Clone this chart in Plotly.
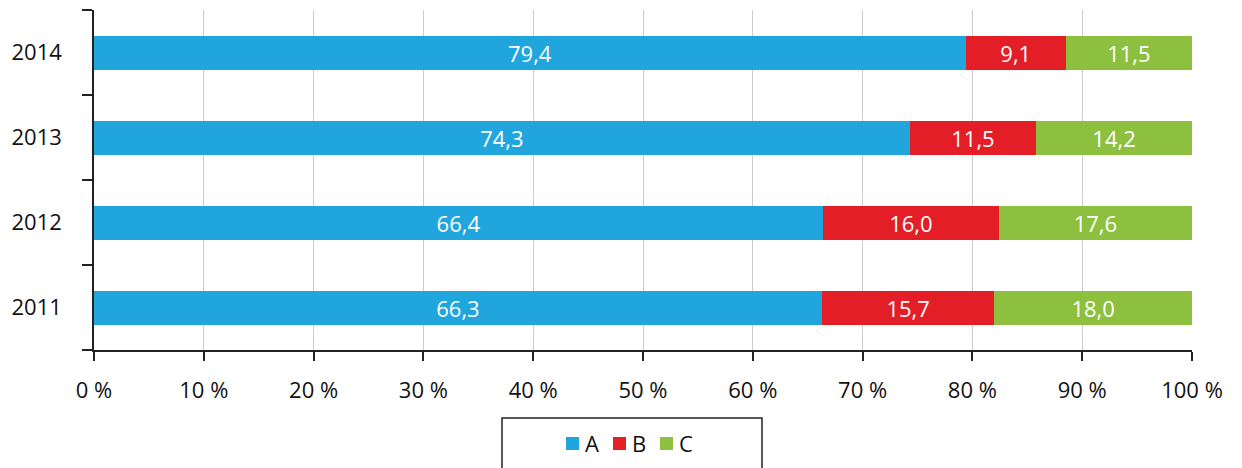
import plotly.graph_objects as go

years = ["2011", "2012", "2013", "2014"]
a_vals = [66.3, 66.4, 74.3, 79.4]
b_vals = [15.7, 16.0, 11.5, 9.1]
c_vals = [18.0, 17.6, 14.2, 11.5]
series_names = ["A", "B", "C"]
colors = ["#21A5DD", "#E41E26", "#8DC03F"]
x_ticks = [0, 10, 20, 30, 40, 50, 60, 70, 80, 90, 100]

FONT = "Open Sans, Noto Sans, sans-serif"
FS = 22
W, H = 1242, 468
ML, MR, MT, MB = 94, 50, 10, 118
PW, PH = W - ML - MR, H - MT - MB

def px_x(p):
    return (p - ML) / PW

def px_y(p):
    return (H - MB - p) / PH

def fmt(v):
    return f"{v:.1f}".replace(".", ",")

fig = go.Figure()
for name, vals, col in zip(series_names, [a_vals, b_vals, c_vals], colors):
    fig.add_trace(go.Bar(
        y=years, x=vals, name=name, orientation="h",
        marker=dict(color=col, line=dict(width=0)),
        text=[fmt(v) for v in vals],
        textposition="inside", insidetextanchor="middle",
        textfont=dict(color="white", size=FS, family=FONT),
        textangle=0, showlegend=False,
    ))

# legend box and entries
shapes = [dict(type="rect", xref="paper", yref="paper",
               x0=px_x(502), x1=px_x(762), y0=px_y(418), y1=px_y(490),
               line=dict(color="#222", width=1.5), fillcolor="rgba(0,0,0,0)")]
annotations = []
for i, (name, col) in enumerate(zip(series_names, colors)):
    sx = 566 + i * 47
    shapes.append(dict(type="rect", xref="paper", yref="paper",
                       x0=px_x(sx), x1=px_x(sx + 13), y0=px_y(437), y1=px_y(450),
                       line=dict(width=0), fillcolor=col))
    annotations.append(dict(xref="paper", yref="paper", x=px_x(sx + 17), y=px_y(443.5),
                            xanchor="left", yanchor="middle", text=name, showarrow=False,
                            font=dict(size=FS, family=FONT, color="#111")))

fig.update_layout(
    barmode="stack",
    bargap=0.6,
    width=W, height=H,
    margin=dict(l=ML, r=MR, t=MT, b=MB),
    plot_bgcolor="white", paper_bgcolor="white",
    font=dict(family=FONT, size=FS, color="#111"),
    uniformtext=dict(mode="show", minsize=FS),
    showlegend=False,
    shapes=shapes,
    annotations=annotations,
)
fig.update_xaxes(
    range=[0, 100], tickvals=x_ticks, ticktext=[f"{t} %" for t in x_ticks],
    showgrid=True, gridcolor="#CCCCCC", gridwidth=1,
    showline=True, linecolor="#222", linewidth=1.5,
    ticks="outside", ticklen=9, tickwidth=1.5, tickcolor="#222",
    ticklabelstandoff=11, zeroline=False, automargin=False,
    tickfont=dict(size=FS, family=FONT, color="#111"),
)
fig.update_yaxes(
    type="category", categoryorder="array", categoryarray=years,
    showline=True, linecolor="#222", linewidth=1.5,
    ticks="outside", tickson="boundaries", ticklen=10, tickwidth=1.5, tickcolor="#222",
    ticklabelstandoff=26, showgrid=False, automargin=False,
    tickfont=dict(size=FS, family=FONT, color="#111"),
)
fig.write_html("out.html", config={"displayModeBar": False},
               post_script="document.body.style.margin='0';document.body.style.overflow='hidden';")
